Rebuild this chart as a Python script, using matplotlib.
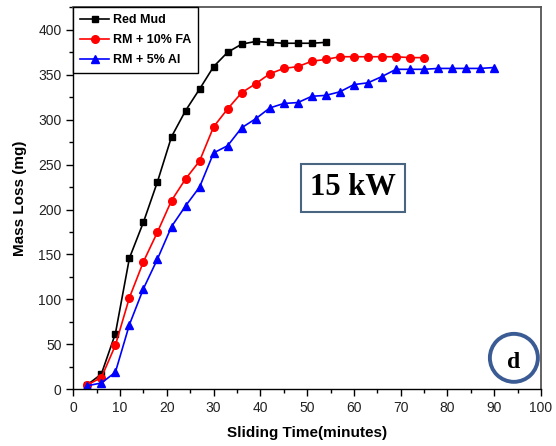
import matplotlib
matplotlib.use("Agg")
import matplotlib.pyplot as plt
from matplotlib.patches import Ellipse
from matplotlib.ticker import MultipleLocator

plt.rcParams['font.family'] = ['Liberation Sans', 'DejaVu Sans']

# Data
rm_x = [3, 6, 9, 12, 15, 18, 21, 24, 27, 30, 33, 36, 39, 42, 45, 48, 51, 54]
rm_y = [5, 17, 62, 146, 186, 231, 281, 310, 334, 359, 375, 384, 387, 386, 385, 385, 385, 386]

fa_x = [3, 6, 9, 12, 15, 18, 21, 24, 27, 30, 33, 36, 39, 42, 45, 48, 51, 54, 57, 60,
        63, 66, 69, 72, 75]
fa_y = [5, 13, 49, 102, 142, 175, 210, 234, 254, 292, 312, 330, 340, 351, 357, 359,
        365, 367, 370, 370, 370, 370, 370, 369, 369]

al_x = [3, 6, 9, 12, 15, 18, 21, 24, 27, 30, 33, 36, 39, 42, 45, 48, 51, 54, 57, 60,
        63, 66, 69, 72, 75, 78, 81, 84, 87, 90]
al_y = [4, 7, 19, 72, 112, 145, 181, 204, 225, 263, 271, 291, 301, 313, 318, 319,
        326, 327, 331, 339, 341, 348, 356, 356, 356, 357, 357, 357, 357, 358]

labels = ["Red Mud", "RM + 10% FA", "RM + 5% Al"]
x_ticks = list(range(0, 101, 10))
y_ticks = list(range(0, 401, 50))

fig = plt.figure(figsize=(5.56, 4.46), dpi=100)
ax = fig.add_axes([73.3 / 556, 1 - 389.3 / 446, (541 - 73.3) / 556, (389.3 - 7.3) / 446])

ax.plot(rm_x, rm_y, '-s', color='black', lw=1.2, ms=5, label=labels[0])
ax.plot(fa_x, fa_y, '-o', color='#ff0000', lw=1.2, ms=5.5, label=labels[1])
ax.plot(al_x, al_y, '-^', color='#0000ff', lw=1.2, ms=5.5, label=labels[2])

ax.set_xlim(0, 100)
ax.set_ylim(0, 425)
ax.set_xticks(x_ticks)
ax.set_yticks(y_ticks)
ax.xaxis.set_minor_locator(MultipleLocator(5))
ax.yaxis.set_minor_locator(MultipleLocator(25))
ax.tick_params(which='major', direction='out', length=5, width=1, labelsize=10,
               top=False, right=False, colors='black')
ax.tick_params(which='minor', direction='out', length=3, width=1, top=False, right=False)
for tl in ax.get_xticklabels() + ax.get_yticklabels():
    tl.set_color('#222222')

for s in ['left', 'bottom']:
    ax.spines[s].set_color('black')
    ax.spines[s].set_linewidth(1.0)
for s in ['top', 'right']:
    ax.spines[s].set_color('#555555')
    ax.spines[s].set_linewidth(1.3)

ax.set_xlabel('Sliding Time(minutes)', fontsize=11, fontweight='bold', labelpad=8)
ax.set_ylabel('Mass Loss (mg)', fontsize=11, fontweight='bold', labelpad=8)

leg = ax.legend(loc='upper left', borderaxespad=0, fancybox=False, framealpha=1,
                edgecolor='black', prop={'weight': 'bold', 'size': 9},
                handlelength=2.3, labelspacing=0.65, borderpad=0.55, handletextpad=0.35)
leg.get_frame().set_linewidth(1.0)

ax.text(59.8, 224, '15 kW', fontsize=22, fontweight='bold',
        family=['Liberation Serif', 'DejaVu Serif'], ha='center', va='center',
        bbox=dict(boxstyle='square,pad=0.3', facecolor='white', edgecolor='#4a6580', lw=1.5))

ax.add_patch(Ellipse((94.2, 35), width=48 / 4.677, height=48 / 0.899, fill=False,
                     edgecolor='#3b5b94', lw=2.8, clip_on=False))
ax.text(94.2, 30, 'd', fontsize=17, fontweight='bold',
        family=['Liberation Serif', 'DejaVu Serif'], ha='center', va='center')

fig.savefig('out.png', dpi=100)
